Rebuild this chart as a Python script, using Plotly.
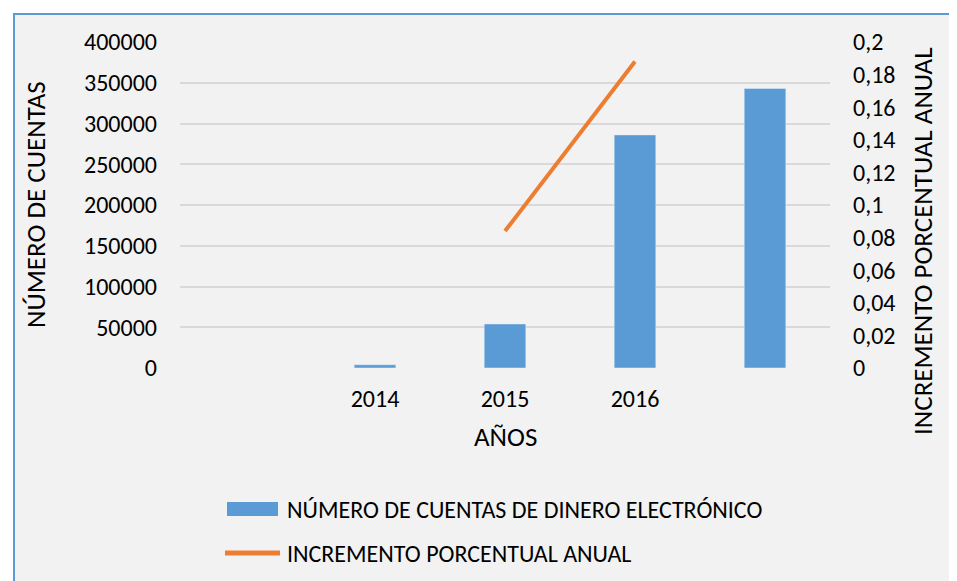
import plotly.graph_objects as go

# categories as they appear on the x axis (first and last slots have no label)
categories = ["", "2014", "2015", "2016", ""]
cuentas = [None, 4000, 54000, 286000, 343000]
incremento = [None, None, 0.084, 0.188, None]

bar_name = "NÚMERO DE CUENTAS DE DINERO ELECTRÓNICO"
line_name = "INCREMENTO PORCENTUAL ANUAL"

FONT = "Carlito, Lato, sans-serif"
BLUE = "#5b9bd5"
ORANGE = "#ed7d31"
TICK = 24
TITLE = 27

x = list(range(len(categories)))

fig = go.Figure()
fig.add_trace(go.Bar(
    x=x, y=cuentas, name=bar_name, marker=dict(color=BLUE),
    yaxis="y", showlegend=False,
))
fig.add_trace(go.Scatter(
    x=x, y=incremento, name=line_name, mode="lines",
    line=dict(color=ORANGE, width=4), yaxis="y2", showlegend=False,
))

# page renders with an 8px body margin, so target pixels are shifted
OFF = 8
W, H = 957, 581
L, T = 180 - OFF, 42 - OFF
R, B = W - (830 - OFF), H - (368 - OFF)
pw, ph = W - L - R, H - T - B


def px(v):
    return (v - OFF - L) / pw


def py(v):
    return (H - B - (v - OFF)) / ph


shapes = [dict(
    type="rect", xref="paper", yref="paper", layer="below",
    x0=px(14), x1=px(975), y0=py(600), y1=py(14),
    fillcolor="#f2f2f2", line=dict(color=BLUE, width=2),
)]
# hand-drawn legend keys (wide swatches as in the original)
shapes.append(dict(type="rect", xref="paper", yref="paper",
                   x0=px(227), x1=px(278), y0=py(516), y1=py(502),
                   fillcolor=BLUE, line=dict(width=0)))
shapes.append(dict(type="line", xref="paper", yref="paper",
                   x0=px(225), x1=px(280), y0=py(553), y1=py(553),
                   line=dict(color=ORANGE, width=5)))


def note(text, xp, yp, size, angle=0, xanchor="center"):
    return dict(text=text, xref="paper", yref="paper", x=px(xp), y=py(yp),
                xanchor=xanchor, yanchor="middle", textangle=angle,
                showarrow=False, font=dict(size=size))


annotations = [
    note("NÚMERO DE CUENTAS", 35, 205, TITLE, -90),
    note(line_name, 922, 241, TITLE, -90),
    note("AÑOS", 505, 437, TITLE),
    note(bar_name, 285, 509, TICK, xanchor="left"),
    note(line_name, 285, 553, TICK, xanchor="left"),
]

fig.update_layout(
    width=W, height=H,
    margin=dict(l=L, r=R, t=T, b=B),
    paper_bgcolor="white",
    plot_bgcolor="rgba(0,0,0,0)",
    separators=",.",
    font=dict(family=FONT, size=TICK, color="#000000"),
    bargap=0.68,
    showlegend=False,
    xaxis=dict(
        range=[-0.5, len(categories) - 0.5], automargin=False,
        tickvals=x, ticktext=categories, ticks="", showgrid=False,
        zeroline=False, showline=False, tickfont=dict(size=TICK),
        ticklabelstandoff=14,
    ),
    yaxis=dict(
        range=[0, 400000], dtick=50000, tickformat="d", automargin=False,
        gridcolor="#d9d9d9", gridwidth=1.5, zeroline=False, showline=False,
        ticks="", tickfont=dict(size=TICK), ticklabelstandoff=22,
    ),
    yaxis2=dict(
        range=[0, 0.2], dtick=0.02, tickformat=".2~f", automargin=False,
        overlaying="y", side="right", showgrid=False, zeroline=False,
        showline=False, tickfont=dict(size=TICK), ticklabelstandoff=22,
    ),
    shapes=shapes,
    annotations=annotations,
)

fig.write_html("out.html")
